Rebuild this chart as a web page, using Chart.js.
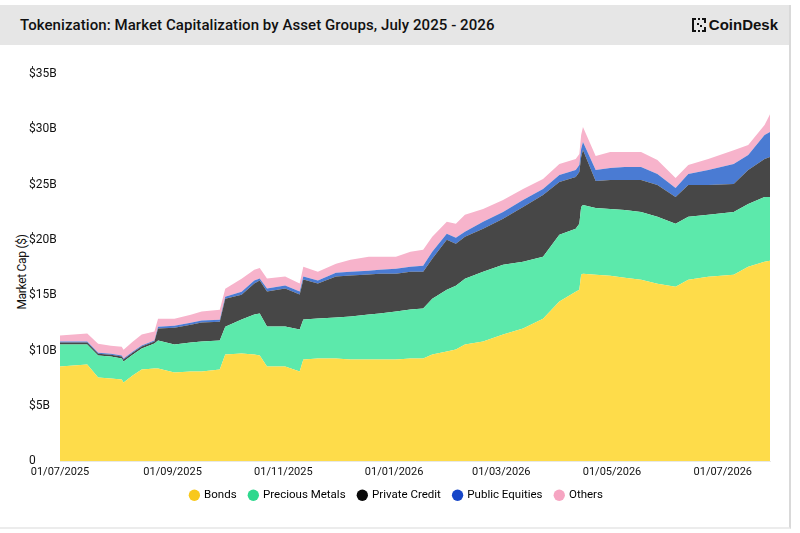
<!DOCTYPE html>
<html>
<head>
<meta charset="utf-8">
<title>Tokenization: Market Capitalization by Asset Groups</title>
<script src="https://cdn.jsdelivr.net/npm/chart.js@4.4.1/dist/chart.umd.min.js"></script>
<style>
  html, body { margin: 0; padding: 0; background: #fff; }
  body { width: 800px; height: 533px; position: relative; overflow: hidden;
         font-family: Roboto, "Liberation Sans", sans-serif; color: #111; }
  .frame { position: absolute; left: 0; top: 5px; width: 789px; height: 522px;
           border-right: 2px solid #d9d9d9; border-bottom: 2px solid #ececec; }
  .head { position: absolute; left: 0; top: 0; width: 789px; height: 40px; background: #e6e6e6; }
  .head h1 { position: absolute; left: 20px; top: 11px; margin: 0; font-size: 15px; font-weight: 500; letter-spacing: 0.07px; }
  .logo { position: absolute; right: 11px; top: 11px; display: flex; align-items: center; gap: 2px;
          font-family: "Liberation Sans", Arial, sans-serif; font-weight: 700; font-size: 15px; }
  .ytitle { position: absolute; left: 22px; top: 272px; transform: translate(-50%, -50%) rotate(-90deg);
            font-size: 12px; letter-spacing: -0.3px; white-space: nowrap; }
  #wrap { position: absolute; left: 0; top: 50px; width: 790px; height: 470px; }
</style>
</head>
<body>
<div class="frame">
  <div class="head">
    <h1>Tokenization: Market Capitalization by Asset Groups, July 2025 - 2026</h1>
    <div class="logo">
      <svg width="16" height="16" viewBox="0 0 16 16">
        <rect x="1" y="1" width="4" height="2" fill="#111"/><rect x="1" y="1" width="2" height="14" fill="#111"/>
        <rect x="1" y="13" width="4" height="2" fill="#111"/>
        <rect x="7" y="1" width="2" height="2" fill="#111"/><rect x="11" y="1" width="4" height="2" fill="#111"/>
        <rect x="13" y="1" width="2" height="5" fill="#111"/><rect x="13" y="10" width="2" height="5" fill="#111"/>
        <rect x="11" y="13" width="4" height="2" fill="#111"/><rect x="7" y="13" width="2" height="2" fill="#111"/>
        <rect x="6" y="6" width="2" height="2" fill="#111"/><rect x="9" y="8" width="2" height="2" fill="#111"/>
      </svg>
      <span>CoinDesk</span>
    </div>
  </div>
</div>
<div class="ytitle">Market Cap ($)</div>
<div id="wrap"><canvas id="chart"></canvas></div>

<script>
// days since 01/07/2025
const DAYS = [0,15,21,28,34,35,40,45,52,54, 63,72,78,88,91,100,107,110,114,124,
  132,134,142,152,160,170,176,185,193,200, 205,213,218,223,233,244,255,266,275,284,
  286,287,288,295,303,311,320,329,339,346, 357,371,379,388,391];

// values in $B
const BONDS = [8.57,8.75,7.57,7.48,7.39,7.12,7.75,8.30,8.39,8.39,
  8.03,8.12,8.12,8.30,9.65,9.74,9.65,9.56,8.57,8.57,
  8.12,9.20,9.29,9.29,9.20,9.20,9.20,9.20,9.29,9.29,
  9.65,9.92,10.10,10.55,10.82,11.45,11.99,12.89,14.43,15.33,
  15.51,16.86,16.95,16.86,16.77,16.59,16.41,16.05,15.78,16.41,
  16.68,16.86,17.58,18.03,18.12];
const METALS = [1.98,1.80,1.98,1.98,1.89,1.89,1.89,1.89,2.25,2.52,
  2.52,2.61,2.71,2.61,2.52,3.07,3.61,3.79,3.61,3.61,
  3.79,3.61,3.61,3.70,3.88,4.06,4.15,4.33,4.42,4.51,
  5.05,5.59,5.77,5.95,6.31,6.31,6.04,5.59,6.04,5.68,
  5.95,6.13,6.22,6.04,6.04,6.13,6.13,6.04,5.68,5.68,
  5.59,5.68,5.68,5.86,5.77];
const PRIVATE_CREDIT = [0.18,0.18,0.18,0.18,0.18,0.18,0.18,0.18,0.18,1.08,
  1.53,1.62,1.71,1.71,2.52,2.25,2.80,2.98,3.16,3.43,
  3.16,3.61,3.16,3.70,3.70,3.61,3.61,3.43,3.43,3.34,
  3.61,4.51,3.79,3.79,3.88,4.15,4.96,5.59,4.78,4.69,
  4.69,4.51,4.96,2.43,2.61,2.71,2.89,2.89,2.43,2.89,
  2.71,2.52,3.07,3.43,3.61];
const EQUITIES = [0.09,0.09,0.09,0.09,0.09,0.09,0.09,0.09,0.09,0.18,
  0.18,0.18,0.18,0.18,0.18,0.27,0.27,0.18,0.27,0.27,
  0.27,0.27,0.27,0.36,0.36,0.36,0.36,0.45,0.45,0.54,
  0.63,0.54,0.54,0.45,0.63,0.63,0.63,0.54,0.63,0.63,
  0.63,0.72,0.72,0.99,1.08,1.17,1.17,0.99,0.81,0.99,
  1.35,1.80,1.35,2.16,2.25];
const OTHERS = [0.54,0.72,0.81,0.72,0.81,0.81,0.90,0.99,0.81,0.72,
  0.63,0.72,0.81,0.90,0.72,1.17,0.99,0.96,0.90,0.81,
  0.72,0.90,0.81,0.81,1.08,1.26,1.17,1.08,1.35,1.44,
  1.35,1.08,1.26,1.53,1.17,1.08,0.99,0.90,0.99,0.99,
  0.99,1.26,1.35,1.26,1.44,1.35,1.35,1.26,0.90,0.81,
  0.99,1.26,0.90,0.90,1.62];

const SERIES_NAMES = ['Bonds', 'Precious Metals', 'Private Credit', 'Public Equities', 'Others'];
const FILL_COLORS = ['#fedc4a', '#5ce9ab', '#474747', '#4a7bd3', '#f7b3cb'];
const LEGEND_COLORS = ['#f8c81c', '#2fd88e', '#0a0a0a', '#1746c8', '#f6a5c2'];

const TICK_DAYS = [0, 62, 123, 184, 243, 304, 365];
const TICK_LABELS = ['01/07/2025', '01/09/2025', '01/11/2025', '01/01/2026', '01/03/2026', '01/05/2026', '01/07/2026'];
const Y_TICKS = [0, 5, 10, 15, 20, 25, 30, 35];

const FONT = 'Roboto, "Liberation Sans", sans-serif';

const toPoints = vals => vals.map((v, i) => ({ x: DAYS[i], y: v }));
const allSeries = [BONDS, METALS, PRIVATE_CREDIT, EQUITIES, OTHERS];

new Chart(document.getElementById('chart'), {
    type: 'line',
    data: {
        datasets: allSeries.map((vals, i) => ({
            label: SERIES_NAMES[i],
            data: toPoints(vals),
            backgroundColor: FILL_COLORS[i],
            borderWidth: 0,
            pointRadius: 0,
            tension: 0,
            fill: i === 0 ? 'origin' : '-1',
        })),
    },
    options: {
        responsive: true,
        maintainAspectRatio: false,
        animation: false,
        layout: { padding: { left: 29, right: 20, top: 24, bottom: 9 } },
        plugins: {
            tooltip: { enabled: false },
            legend: {
                position: 'bottom',
                labels: {
                    usePointStyle: true,
                    pointStyle: 'circle',
                    boxWidth: 8,
                    boxHeight: 8,
                    padding: 7,
                    color: '#111',
                    font: { family: FONT, size: 11.5 },
                    // trailing spaces widen the gap between items without adding vertical padding
                    generateLabels: () => SERIES_NAMES.map((n, i) => ({
                        text: n + '  ', fillStyle: LEGEND_COLORS[i], strokeStyle: LEGEND_COLORS[i],
                        lineWidth: 0, pointStyle: 'circle', datasetIndex: i, hidden: false,
                    })),
                },
            },
        },
        scales: {
            x: {
                type: 'linear',
                min: 0,
                max: 391,
                grid: { display: false, drawTicks: false },
                border: { display: true, color: '#e8e8e8' },
                afterBuildTicks: axis => { axis.ticks = TICK_DAYS.map(v => ({ value: v })); },
                ticks: {
                    autoSkip: false,
                    maxRotation: 0,
                    padding: 4,
                    color: '#111',
                    font: { family: FONT, size: 11 },
                    callback: v => TICK_LABELS[TICK_DAYS.indexOf(v)],
                },
            },
            y: {
                stacked: true,
                min: 0,
                max: 35,
                grid: { display: false },
                border: { display: false },
                afterBuildTicks: axis => { axis.ticks = Y_TICKS.map(v => ({ value: v })); },
                afterFit: axis => { axis.width = 31; },
                ticks: {
                    crossAlign: 'far',
                    color: '#111',
                    font: { family: FONT, size: 12 },
                    callback: v => v === 0 ? '0' : '$' + v + 'B',
                },
            },
        },
    },
});
</script>
</body>
</html>
